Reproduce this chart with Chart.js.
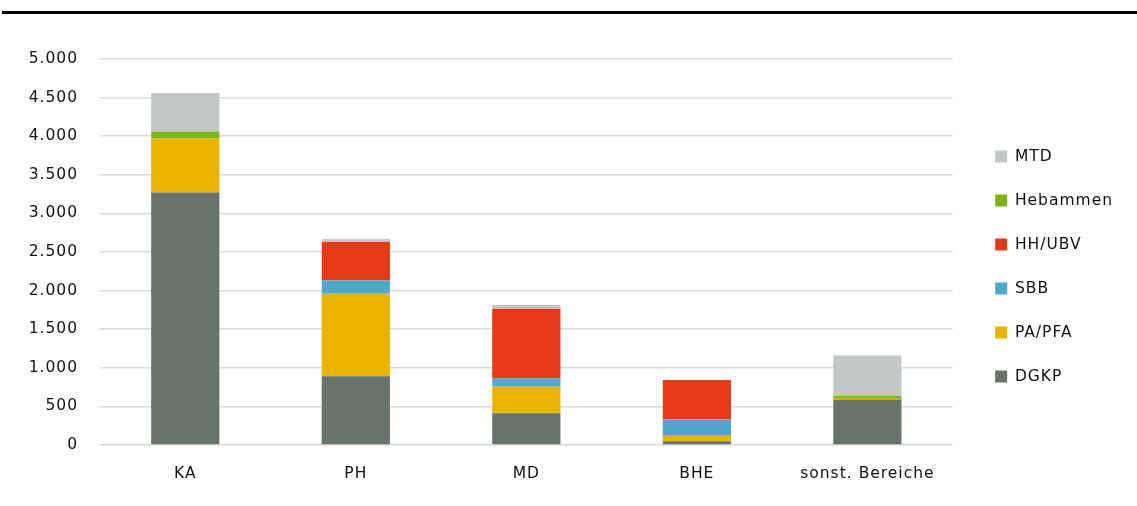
<!DOCTYPE html>
<html>
<head>
<meta charset="utf-8">
<script src="https://cdn.jsdelivr.net/npm/chart.js@4/dist/chart.umd.min.js"></script>
<style>
  html, body { margin: 0; padding: 0; background: #fff; }
  #wrap { position: relative; width: 1137px; height: 506px; }
  #topline { position: absolute; left: 2px; right: 0; top: 11px; height: 3px; background: #000; }
  canvas { position: absolute; left: 0; top: 0; }
</style>
</head>
<body>
<div id="wrap">
  <div id="topline"></div>
  <canvas id="chart" width="1137" height="506"></canvas>
</div>
<script>
// Kategorien und Werte
const categories = ["KA", "PH", "MD", "BHE", "sonst. Bereiche"];
const dgkp     = [3270, 890, 410, 48, 590];
const paPfa    = [700, 1070, 345, 80, 20];
const sbb      = [0, 170, 110, 205, 0];
const hhUbv    = [0, 500, 900, 510, 0];
const hebammen = [90, 0, 0, 0, 25];
const mtd      = [500, 40, 50, 0, 525];
const yTicks   = [0, 500, 1000, 1500, 2000, 2500, 3000, 3500, 4000, 4500, 5000];

const FONT = "'DejaVu Sans', sans-serif";
const FSIZE = 15.5;

function fmt(v) {
  if (v < 1000) return String(v);
  return Math.floor(v / 1000) + "." + String(v % 1000).padStart(3, "0");
}

// etwas Buchstabenabstand wie im Original
const spacing = {
  id: "spacing",
  beforeUpdate: c => { c.ctx.letterSpacing = "1px"; },
  beforeDraw: c => { c.ctx.letterSpacing = "1px"; },
};

const datasets = [
  { label: "DGKP", data: dgkp, backgroundColor: "#68736a" },
  { label: "PA/PFA", data: paPfa, backgroundColor: "#e8b400" },
  { label: "SBB", data: sbb, backgroundColor: "#4fa8cb" },
  { label: "HH/UBV", data: hhUbv, backgroundColor: "#e43a19" },
  { label: "Hebammen", data: hebammen, backgroundColor: "#7db51f" },
  { label: "MTD", data: mtd, backgroundColor: "#c3c8c5" },
];

// leere Achsen nur als Abstandhalter
const spacer = (pos, size) => ({
  position: pos,
  display: true,
  grid: { display: false, drawTicks: false },
  border: { display: false },
  ticks: { display: false },
  afterFit: s => { if (pos === "top") s.height = size; else s.width = size; },
});

new Chart(document.getElementById("chart"), {
  type: "bar",
  data: {
    labels: categories,
    datasets: datasets.map(d => ({
      ...d,
      borderWidth: 0,
      categoryPercentage: 1,
      barPercentage: 0.4,
    })),
  },
  plugins: [spacing],
  options: {
    responsive: false,
    animation: false,
    layout: { padding: { left: 25, right: 14, top: 27, bottom: 0 } },
    plugins: {
      legend: {
        position: "right",
        reverse: true,
        labels: {
          boxWidth: 12,
          boxHeight: 12,
          padding: 28.5,
          color: "#111",
          font: { family: FONT, size: FSIZE },
        },
      },
      tooltip: { enabled: false },
    },
    scales: {
      x: {
        stacked: true,
        grid: { display: false, drawTicks: false },
        border: { display: false },
        ticks: { color: "#111", padding: 20, font: { family: FONT, size: FSIZE } },
        afterFit: s => { s.height = 61; },
      },
      xTop: spacer("top", 32),
      y: {
        stacked: true,
        min: 0,
        max: 5000,
        afterBuildTicks: s => { s.ticks = yTicks.map(v => ({ value: v })); },
        grid: { color: "#d9d9d9", lineWidth: 1.5, drawTicks: false },
        border: { display: false },
        ticks: { color: "#111", padding: 22, callback: v => fmt(v), font: { family: FONT, size: FSIZE } },
        afterFit: s => { s.width = 75; },
      },
      gap: spacer("right", 14),
    },
  },
});
</script>
</body>
</html>
